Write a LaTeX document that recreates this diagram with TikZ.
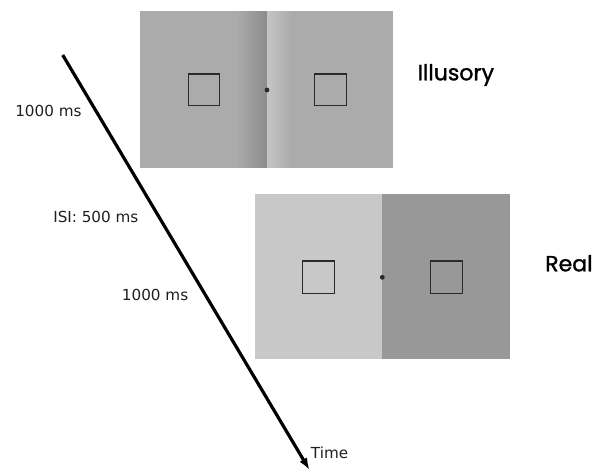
\documentclass[tikz,border=0pt]{standalone}
\usepackage{fontspec}
\setmainfont{DejaVu Sans}
\newfontfamily\geo[FakeBold=1.3]{Poppins}
\usetikzlibrary{arrows.meta}
\definecolor{illbase}{HTML}{ABABAB}
\definecolor{illdark}{HTML}{8C8C8C}
\definecolor{illlight}{HTML}{C6C6C6}
\definecolor{realleft}{HTML}{C8C8C8}
\definecolor{realright}{HTML}{989898}
\definecolor{ink}{HTML}{2A2A2A}
\tikzset{
  sq/.style={draw=ink, line width=1pt},
  fix/.style={circle, fill=ink, inner sep=0pt, minimum size=3.6pt},
  lab/.style={font=\fontsize{11.4}{13}\selectfont, text=black!88, inner sep=0pt},
  cond/.style={font=\geo\fontsize{16.5}{18}\selectfont, inner sep=0pt},
}
\begin{document}
\begin{tikzpicture}[x=0.75pt,y=-0.75pt]
\useasboundingbox (0,0) rectangle (592,471);
% Illusory panel
\fill[illbase] (140,10.7) rectangle (393.3,168);
\foreach \i in {0,...,29}{
  \pgfmathsetmacro{\pct}{(\i+0.5)/30*100}
  \fill[illdark!\pct!illbase] ({237+\i*0.99},10.7) rectangle ({237+(\i+1)*0.99+0.3},168);
}
\foreach \i in {0,...,24}{
  \pgfmathsetmacro{\pct}{100-(\i+0.5)/25*100}
  \fill[illlight!\pct!illbase] ({266.7+\i*1.0},10.7) rectangle ({266.7+(\i+1)*1.0+0.3},168);
}
\draw[sq] (188.3,74) rectangle (219.3,105.7);
\draw[sq] (314.3,74) rectangle (346.7,105.7);
\node[fix] (illdot) at (267,90) {};
% Real panel
\fill[realleft] (255,194) rectangle (382.3,359);
\fill[realright] (382.3,194) rectangle (510,359);
\draw[sq] (302.3,261) rectangle (334.3,293.3);
\draw[sq] (430.7,261) rectangle (462.3,293.3);
\node[fix] (realdot) at (382.3,277.3) {};
% Time arrow
\coordinate (tstart) at (62.7,55);
\coordinate (tend) at (309.5,470);
\draw[line width=2.4pt, -{Latex[length=9pt,width=6.5pt]}] (tstart) -- (tend);
% Labels
\node[lab, anchor=west] (l1) at (15,110.7) {1000 ms};
\node[lab, anchor=west] (l2) at (53,216.7) {ISI: 500 ms};
\node[lab, anchor=west] (l3) at (121.7,295) {1000 ms};
\node[lab, anchor=west] (lt) at (310.7,452.7) {Time};
\node[cond, anchor=west] (cill) at (417.3,75) {Illusory};
\node[cond, anchor=west] (creal) at (545,263.3) {Real};
\end{tikzpicture}
\end{document}
